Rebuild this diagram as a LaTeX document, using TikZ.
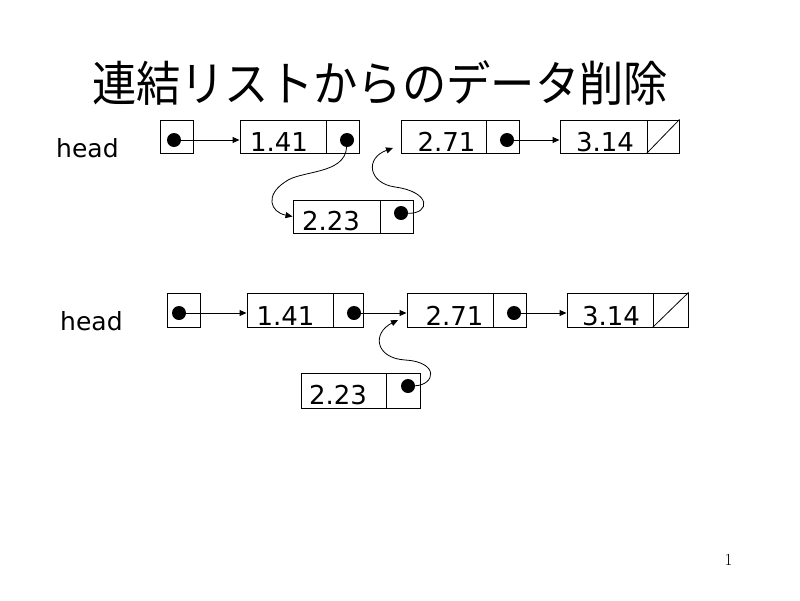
\documentclass[tikz,border=0pt]{standalone}
\usepackage{fontspec}
\usepackage{graphicx}
\newfontfamily\dv{DejaVu Sans}
\newfontfamily\cjk{Noto Sans CJK JP}
\usetikzlibrary{arrows.meta}
\begin{document}
\begin{tikzpicture}[x=1pt,y=-1pt,
  cell/.style={draw, line width=1pt, inner sep=0pt, minimum height=33pt},
  dcell/.style={cell, font=\dv\fontsize{26}{30}\selectfont, text depth=0pt},
  dot/.style={circle, fill, inner sep=0pt, minimum size=14pt},
  ptr/.style={line width=1pt, -{Triangle[length=7pt,width=6pt]}},
  cptr/.style={line width=0.8pt, -{Triangle[length=7pt,width=6pt]}},
  lbl/.style={font=\dv\fontsize{25}{30}\selectfont, anchor=base west, inner sep=0pt},
]
\useasboundingbox[fill=white] (0,0) rectangle (800,600);

% title
\node[anchor=base, inner sep=0pt] (title) at (380,101)
  {\cjk\fontsize{48}{56}\selectfont\resizebox{576pt}{\height}{連結リストからのデータ削除}};

% ---- top list ----
\node[lbl] (lh1) at (56,157) {head};
\node[cell, minimum width=33pt] (hA) at (176.5,136.5) {};
\node[dot] (hAd) at (174,140) {};
\node[dcell, minimum width=86pt, text height=29pt] (a1) at (283,136.5) {\kern-8pt 1.41};
\node[cell, minimum width=33pt] (a1p) at (342.5,136.5) {};
\node[dot] (a1d) at (347,140) {};
\node[dcell, minimum width=85pt, text height=29pt] (a2) at (443.5,136.5) {\kern6pt 2.71};
\node[cell, minimum width=33pt] (a2p) at (502.5,136.5) {};
\node[dot] (a2d) at (507,140) {};
\node[dcell, minimum width=87pt, text height=29pt] (a3) at (603.5,136.5) {\kern3pt 3.14};
\node[cell, minimum width=32pt] (a3p) at (663,136.5) {};
\draw[line width=0.8pt] (a3p.south west) -- (a3p.north east);

\node[dcell, minimum width=87pt, text height=28pt] (c1) at (336.5,216.5) {\kern-11pt 2.23};
\node[cell, minimum width=33pt] (c1p) at (396.5,216.5) {};
\node[dot] (c1d) at (401,213) {};

\draw[ptr] (hAd.center) -- (hAd.center -| a1.west);
\draw[ptr] (a2d.center) -- (a2d.center -| a3.west);
\draw[cptr] (a1d) .. controls (345,175) and (300,170) .. (285,182)
  .. controls (265,195) and (270,212) .. (c1.west);
\coordinate (t2) at (393,148);
\draw[cptr] (c1d) .. controls (430,214) and (432,192) .. (395,187)
  .. controls (368,183) and (365,158) .. (t2);

% ---- bottom list ----
\node[lbl] (lh2) at (60,330) {head};
\node[cell, minimum width=33pt, minimum height=34pt] (hB) at (183.5,310) {};
\node[dot] (hBd) at (179,313) {};
\node[dcell, minimum width=86pt, minimum height=34pt, text height=30pt] (b1) at (290,310) {\kern-9pt 1.41};
\node[cell, minimum width=30pt, minimum height=34pt] (b1p) at (348,310) {};
\node[dot] (b1d) at (354,313) {};
\node[dcell, minimum width=86pt, minimum height=34pt, text height=30pt] (b2) at (450,310) {\kern9pt 2.71};
\node[cell, minimum width=33pt, minimum height=34pt] (b2p) at (509.5,310) {};
\node[dot] (b2d) at (514,313) {};
\node[dcell, minimum width=86pt, minimum height=34pt, text height=30pt] (b3) at (610,310) {\kern2pt 3.14};
\node[cell, minimum width=35pt, minimum height=34pt] (b3p) at (670.5,310) {};
\draw[line width=0.8pt] (b3p.south west) -- (b3p.north east);

\node[dcell, minimum width=85pt, minimum height=35pt, text height=28pt] (c2) at (343.5,390.5) {\kern-11pt 2.23};
\node[cell, minimum width=34pt, minimum height=35pt] (c2p) at (403,390.5) {};
\node[dot] (c2d) at (408,386) {};

\draw[ptr] (hBd.center) -- (hBd.center -| b1.west);
\draw[ptr] (b1d.center) -- (b1d.center -| b2.west);
\draw[ptr] (b2d.center) -- (b2d.center -| b3.west);
\coordinate (t3) at (398,320);
\draw[cptr] (c2d) .. controls (435,385) and (440,362) .. (405,360)
  .. controls (375,358) and (372,333) .. (t3);

% page number
\node[font=\fontsize{17}{20}\selectfont, anchor=base, inner sep=0pt] (pg) at (728.5,565) {1};
\end{tikzpicture}
\end{document}
